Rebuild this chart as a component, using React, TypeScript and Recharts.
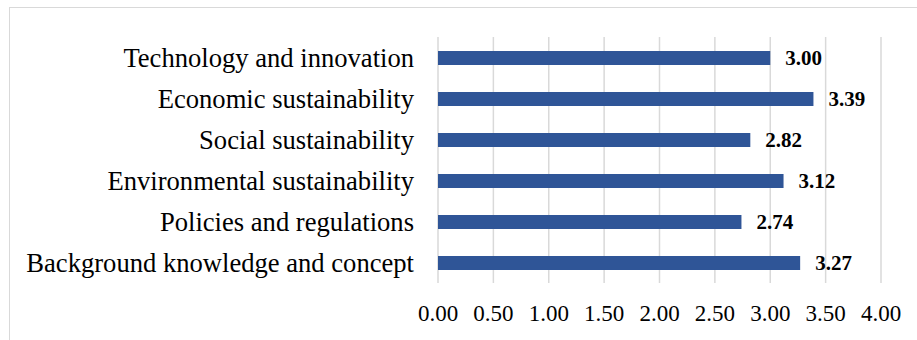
import React from "react";
import {
  BarChart,
  Bar,
  XAxis,
  YAxis,
  CartesianGrid,
  LabelList,
} from "recharts";

// Categories listed top to bottom as they appear on the chart
const categories = [
  "Technology and innovation",
  "Economic sustainability",
  "Social sustainability",
  "Environmental sustainability",
  "Policies and regulations",
  "Background knowledge and concept",
];
const meanScores = [3.0, 3.39, 2.82, 3.12, 2.74, 3.27];
const xTicks = [0, 0.5, 1, 1.5, 2, 2.5, 3, 3.5, 4];

const serif = "'Liberation Serif', 'Times New Roman', serif";

export default function App() {
  const data = categories.map((name, i) => ({ name, score: meanScores[i] }));

  return (
    <div
      style={{
        position: "absolute",
        left: 9,
        top: 7,
        width: 908,
        height: 333,
        boxSizing: "border-box",
        borderTop: "1px solid #d9d9d9",
        borderLeft: "1px solid #d9d9d9",
        background: "#fff",
      }}
    >
      <BarChart
        width={907}
        height={332}
        data={data}
        layout="vertical"
        margin={{ top: 29, right: 36, left: 0, bottom: 0 }}
      >
        <CartesianGrid
          horizontal={false}
          stroke="#d9d9d9"
          strokeWidth={1.5}
        />
        <XAxis
          type="number"
          domain={[0, 4]}
          ticks={xTicks}
          tickFormatter={(v: number) => v.toFixed(2)}
          height={57}
          axisLine={false}
          tickLine={false}
          tickSize={0}
          tickMargin={22}
          tick={{ fontFamily: serif, fontSize: 23, fill: "#000" }}
        />
        <YAxis
          type="category"
          dataKey="name"
          width={428}
          axisLine={false}
          tickLine={false}
          tickSize={0}
          tickMargin={24}
          tick={{ fontFamily: serif, fontSize: 26.6, fill: "#000" }}
        />
        <Bar
          dataKey="score"
          fill="#2f5597"
          barSize={14}
          isAnimationActive={false}
        >
          <LabelList
            dataKey="score"
            position="right"
            offset={15}
            formatter={(v: any) => Number(v).toFixed(2)}
            style={{
              fontFamily: serif,
              fontSize: 21,
              fontWeight: "bold",
              fill: "#000",
            }}
          />
        </Bar>
      </BarChart>
    </div>
  );
}
